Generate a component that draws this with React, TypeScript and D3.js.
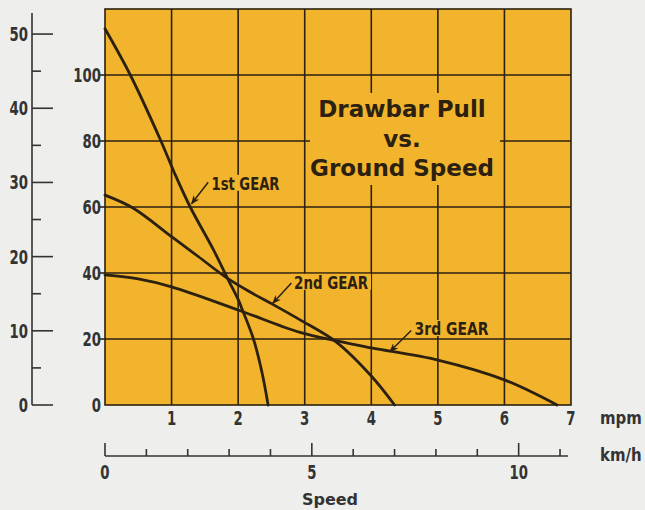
import * as d3 from 'd3'
import { useEffect, useRef } from 'react'

// speeds in mph, pull in 100 lb (scale reads 0..120)
const gear1Speed = [0, 0.38, 0.84, 1.05, 1.28, 1.63, 1.85, 2.0, 2.06, 2.23, 2.36, 2.45]
const gear1Pull = [114, 100, 80, 70, 60, 47, 38, 32, 29, 20, 9.7, 0]
const gear2Speed = [0, 0.42, 1.0, 1.4, 1.83, 2.2, 2.52, 2.93, 3.48, 4.0, 4.35]
const gear2Pull = [63.6, 59.7, 51, 45, 38.5, 34, 30.5, 25.8, 19, 8.8, 0]
const gear3Speed = [0, 0.5, 1.0, 2.0, 2.93, 3.48, 4.0, 5.0, 6.0, 6.79]
const gear3Pull = [39.4, 38.2, 35.8, 28.8, 22, 19.4, 17.3, 13.6, 7.6, 0]

const pullTicks = [0, 20, 40, 60, 80, 100]
const mphTicks = [1, 2, 3, 4, 5, 6, 7]
const kmhTicks = [0, 1, 2, 3, 4, 5, 6, 7, 8, 9, 10, 11]
const kmhLabels = [0, 5, 10]
const kNTicks = [0, 5, 10, 15, 20, 25, 30, 35, 40, 45, 50]
const kNLabels = [0, 10, 20, 30, 40, 50]

const gearLabels = [
	{ text: '1st GEAR', x: 1.6, y: 65.2, w: 68, tail: [1.55, 67.5], head: [1.3, 61] },
	{ text: '2nd GEAR', x: 2.84, y: 35.2, w: 74, tail: [2.8, 37], head: [2.52, 30.8] },
	{ text: '3rd GEAR', x: 4.65, y: 21.2, w: 74, tail: [4.6, 22.6], head: [4.28, 16.2] },
]

const W = 645
const H = 510
const YELLOW = '#f1b42c'
const INK = '#2c2110'
const FONT = '"DejaVu Sans", sans-serif'

export default function App() {
	const svgRef = useRef(null)

	useEffect(() => {
		const svg = d3.select(svgRef.current)
		svg.selectAll('*').remove()

		const x = d3.scaleLinear().domain([0, 7]).range([105, 571])
		const y = d3.scaleLinear().domain([0, 120]).range([405, 9])
		const yKN = d3.scaleLinear().domain([0, 120 * 0.44482]).range([405, 9])
		const xKmh = d3.scaleLinear().domain([0, 7 * 1.609344]).range([105, 571])

		svg.append('rect').attr('width', W).attr('height', H).attr('fill', '#eeeeec')

		const defs = svg.append('defs')
		defs
			.append('marker')
			.attr('id', 'arr')
			.attr('viewBox', '0 0 10 10')
			.attr('refX', 9)
			.attr('refY', 5)
			.attr('markerWidth', 9)
			.attr('markerHeight', 9)
			.attr('markerUnits', 'userSpaceOnUse')
			.attr('orient', 'auto')
			.append('path')
			.attr('d', 'M0,1 L10,5 L0,9 L3,5 Z')
			.attr('fill', INK)

		// plot background
		svg
			.append('rect')
			.attr('x', x(0))
			.attr('y', y(120))
			.attr('width', x(7) - x(0))
			.attr('height', y(0) - y(120))
			.attr('fill', YELLOW)

		const grid = svg.append('g').attr('stroke', INK).attr('stroke-width', 1.6)
		grid
			.selectAll('line.v')
			.data(d3.range(1, 7))
			.join('line')
			.attr('x1', d => x(d))
			.attr('x2', d => x(d))
			.attr('y1', y(120))
			.attr('y2', y(0))
		grid
			.selectAll('line.h')
			.data(d3.range(20, 120, 20))
			.join('line')
			.attr('x1', x(0))
			.attr('x2', x(7))
			.attr('y1', d => y(d))
			.attr('y2', d => y(d))

		// title box covers the grid
		svg
			.append('rect')
			.attr('x', 310)
			.attr('y', 93)
			.attr('width', 190)
			.attr('height', 92)
			.attr('fill', YELLOW)

		const title = svg
			.append('g')
			.attr('font-family', FONT)
			.attr('font-weight', 'bold')
			.attr('font-size', 23)
			.attr('fill', INK)
			.attr('text-anchor', 'middle')
		title.append('text').attr('x', 402).attr('y', 117).text('Drawbar Pull')
		title.append('text').attr('x', 402).attr('y', 147).text('vs.')
		title.append('text').attr('x', 402).attr('y', 176).text('Ground Speed')

		// gear labels with background patches
		const lab = svg.append('g')
		gearLabels.forEach(g => {
			lab
				.append('rect')
				.attr('x', x(g.x) - 3)
				.attr('y', y(g.y) - 15)
				.attr('width', g.w + 6)
				.attr('height', 16)
				.attr('fill', YELLOW)
			lab
				.append('text')
				.attr('x', x(g.x))
				.attr('y', y(g.y))
				.attr('font-family', FONT)
				.attr('font-weight', 'bold')
				.attr('font-size', 18)
				.attr('fill', INK)
				.attr('textLength', g.w)
				.attr('lengthAdjust', 'spacingAndGlyphs')
				.text(g.text)
		})

		// curves
		const line = d3
			.line()
			.x(d => x(d[0]))
			.y(d => y(d[1]))
			.curve(d3.curveCatmullRom.alpha(0.5))
		const series = [
			d3.zip(gear1Speed, gear1Pull),
			d3.zip(gear2Speed, gear2Pull),
			d3.zip(gear3Speed, gear3Pull),
		]
		svg
			.append('g')
			.selectAll('path')
			.data(series)
			.join('path')
			.attr('d', d => line(d))
			.attr('fill', 'none')
			.attr('stroke', INK)
			.attr('stroke-width', 2.8)
			.attr('stroke-linecap', 'round')

		// arrows
		svg
			.append('g')
			.selectAll('line')
			.data(gearLabels)
			.join('line')
			.attr('x1', d => x(d.tail[0]))
			.attr('y1', d => y(d.tail[1]))
			.attr('x2', d => x(d.head[0]))
			.attr('y2', d => y(d.head[1]))
			.attr('stroke', INK)
			.attr('stroke-width', 1.5)
			.attr('marker-end', 'url(#arr)')

		// plot border
		svg
			.append('rect')
			.attr('x', x(0))
			.attr('y', y(120))
			.attr('width', x(7) - x(0))
			.attr('height', y(0) - y(120))
			.attr('fill', 'none')
			.attr('stroke', INK)
			.attr('stroke-width', 1.6)

		const AX = '#333333'
		const condensed = (g, tx, ty, txt, anchor, size, sx) =>
			g
				.append('text')
				.attr('transform', `translate(${tx},${ty}) scale(${sx},1)`)
				.attr('text-anchor', anchor)
				.attr('font-family', FONT)
				.attr('font-weight', 'bold')
				.attr('font-size', size)
				.attr('fill', AX)
				.text(txt)

		// main pull axis
		const ya = svg.append('g')
		ya.selectAll('line')
			.data(pullTicks.filter(d => d > 0))
			.join('line')
			.attr('x1', x(0) - 6)
			.attr('x2', x(0))
			.attr('y1', d => y(d))
			.attr('y2', d => y(d))
			.attr('stroke', INK)
			.attr('stroke-width', 1.6)
		pullTicks.forEach(d => condensed(ya, 101, y(d) + 7, d, 'end', 19, 0.7))

		// left secondary axis
		const la = svg.append('g').attr('stroke', AX).attr('stroke-width', 1.6)
		la.append('line').attr('x1', 32).attr('x2', 32).attr('y1', 13).attr('y2', yKN(0))
		la.selectAll('line.t')
			.data(kNTicks)
			.join('line')
			.attr('x1', 32)
			.attr('x2', d => (d % 10 === 0 ? 53 : 41))
			.attr('y1', d => yKN(d))
			.attr('y2', d => yKN(d))
		const lt = svg.append('g')
		kNLabels.forEach(d => condensed(lt, 28, yKN(d) + 7, d, 'end', 19, 0.7))

		// mpm labels
		const xa = svg.append('g')
		mphTicks.forEach(d => condensed(xa, x(d), 425, d, 'middle', 19, 0.7))
		condensed(xa, 600, 424, 'mpm', 'start', 17, 0.88)

		// km/h axis
		const ka = svg.append('g').attr('stroke', AX).attr('stroke-width', 1.6)
		ka.append('line').attr('x1', xKmh(0)).attr('x2', 568).attr('y1', 456).attr('y2', 456)
		ka.selectAll('line.t')
			.data(kmhTicks)
			.join('line')
			.attr('x1', d => xKmh(d))
			.attr('x2', d => xKmh(d))
			.attr('y1', 456)
			.attr('y2', d => (d % 5 === 0 ? 443 : 449))
		kmhLabels.forEach(d => condensed(xa, xKmh(d), 479, d, 'middle', 19, 0.7))
		condensed(xa, 600, 461, 'km/h', 'start', 17, 0.88)

		svg
			.append('text')
			.attr('x', 330)
			.attr('y', 505)
			.attr('text-anchor', 'middle')
			.attr('font-family', FONT)
			.attr('font-weight', 'bold')
			.attr('font-size', 16)
			.attr('fill', AX)
			.text('Speed')
	}, [])

	return (
		<svg
			ref={svgRef}
			width={W}
			height={H}
			style={{ position: 'fixed', left: 0, top: 0, display: 'block' }}
		/>
	)
}
